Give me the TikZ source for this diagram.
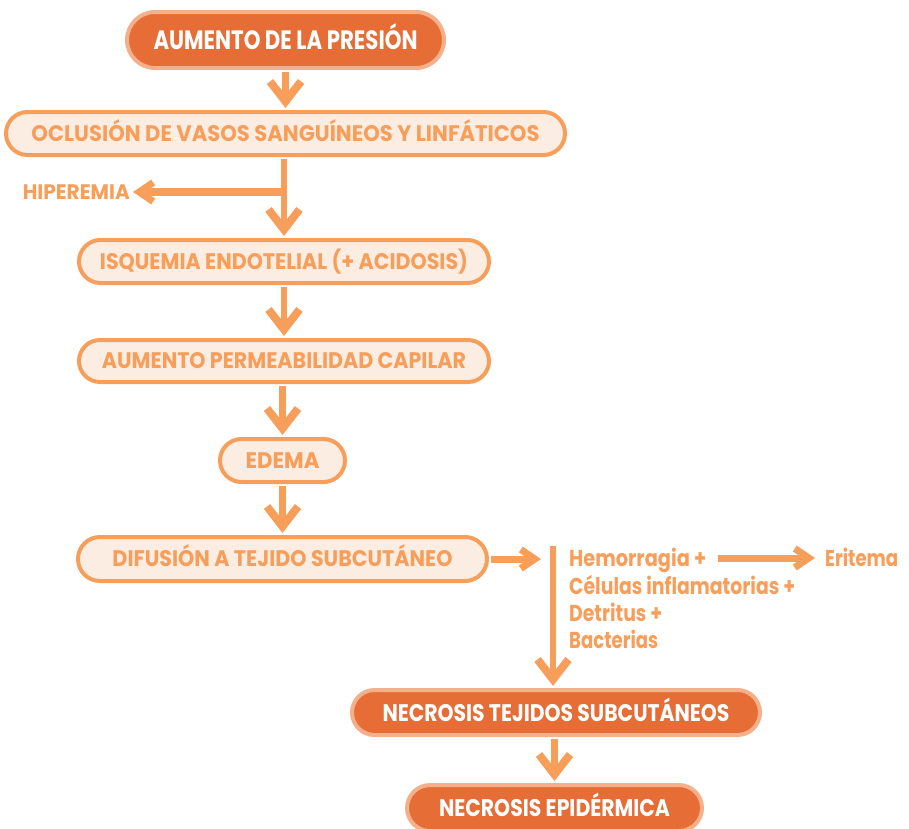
\documentclass[tikz,border=0pt]{standalone}
\usepackage{fontspec}
\setmainfont{Poppins}
\usetikzlibrary{arrows.meta}
\definecolor{darkfill}{HTML}{E66D35}
\definecolor{darkedge}{HTML}{F3B08A}
\definecolor{litefill}{HTML}{FCEDE3}
\definecolor{org}{HTML}{F79E5A}
\newcommand{\fitw}[3]{\resizebox{#1}{\height}{\fontsize{#2}{#2}\selectfont\bfseries #3}}
\tikzset{
  darkbox/.style={draw=darkedge, fill=darkfill, line width=4pt, text=white, inner sep=0pt, text depth=0pt},
  litebox/.style={draw=org, fill=litefill, line width=4pt, text=org, inner sep=0pt, text depth=0pt},
  lbl/.style={text=org, inner sep=2pt},
  arrv/.style={draw=org, line width=6.5pt, shorten <=2pt, shorten >=2pt,
     -{Straight Barb[length=20pt,width=31pt,line width=8pt,sharp]}},
  arrh/.style={draw=org, line width=7pt, shorten <=2pt, shorten >=2pt,
     -{Straight Barb[length=14pt,width=19pt,line width=7pt,sharp]}}
}
\begin{document}
\begin{tikzpicture}[x=1pt,y=-1pt]
\useasboundingbox (0,0) rectangle (909,828);
\clip (0,0) rectangle (909,828);
% boxes
\node[darkbox, minimum width=317pt, minimum height=56pt, rounded corners=28pt, text height=18.5pt] (b1) at (285.5,40) {\fitw{264pt}{26.5pt}{AUMENTO DE LA PRESIÓN}};
\node[litebox, minimum width=559pt, minimum height=43pt, rounded corners=21.5pt, text height=15.5pt] (b2) at (285.5,133.5) {\fitw{508pt}{22.5pt}{OCLUSIÓN DE VASOS SANGUÍNEOS Y LINFÁTICOS}};
\node[litebox, minimum width=410pt, minimum height=43pt, rounded corners=21.5pt, text height=15.5pt] (b3) at (284,261.5) {\fitw{368pt}{22.5pt}{ISQUEMIA ENDOTELIAL (+ ACIDOSIS)}};
\node[litebox, minimum width=410pt, minimum height=42pt, rounded corners=21pt, text height=15.5pt] (b4) at (284,361) {\fitw{364pt}{22.5pt}{AUMENTO PERMEABILIDAD CAPILAR}};
\node[litebox, minimum width=125pt, minimum height=43pt, rounded corners=21.5pt, text height=15.5pt] (b5) at (282.5,460.5) {\fitw{74pt}{22.5pt}{EDEMA}};
\node[litebox, minimum width=409pt, minimum height=44pt, rounded corners=22pt, text height=15.5pt] (b6) at (282.5,559) {\fitw{340pt}{22.5pt}{DIFUSIÓN A TEJIDO SUBCUTÁNEO}};
\node[darkbox, minimum width=408pt, minimum height=45pt, rounded corners=22.5pt, text height=17pt] (b7) at (556,712.5) {\fitw{347pt}{24pt}{NECROSIS TEJIDOS SUBCUTÁNEOS}};
\node[darkbox, minimum width=295pt, minimum height=46pt, rounded corners=23pt, text height=17pt] (b8) at (554.5,808) {\fitw{231pt}{24pt}{NECROSIS EPIDÉRMICA}};
% labels
\node[lbl, anchor=base east] (hip) at (132,199) {\fitw{107pt}{21pt}{HIPEREMIA}};
\node[lbl, anchor=base west, inner sep=0pt] (l1) at (569,566) {\fitw{137pt}{23pt}{Hemorragia +}};
\node[lbl, anchor=base west, inner sep=0pt] (l2) at (569,594) {\fitw{226pt}{23pt}{Células inflamatorias +}};
\node[lbl, anchor=base west, inner sep=0pt] (l3) at (569,621) {\fitw{93pt}{23pt}{Detritus +}};
\node[lbl, anchor=base west, inner sep=0pt] (l4) at (569,648) {\fitw{89pt}{23pt}{Bacterias}};
\node[lbl, anchor=base west, inner sep=0pt] (eri) at (825,566) {\fitw{73pt}{23pt}{Eritema}};
% connectors
\coordinate (hj) at (287,192);
\coordinate (de) at (543,559);
\coordinate (bt) at (553,546);
\coordinate (es) at (718,558);
\coordinate (ee) at (817,558);
\draw[arrv] (b1) -- (b2);
\draw[arrv] (b2.south -| b3) -- (b3.north);
\draw[arrh, line width=7.5pt, shorten <=0pt, shorten >=1pt] (hj) -- (hj -| hip.east);
\draw[arrv] (b3) -- (b4);
\draw[arrv] (b4.south -| b5) -- (b5.north);
\draw[arrv] (b5) -- (b6);
\draw[arrh] (b6.east) -- (de);
\draw[arrv, shorten <=0pt] (bt) -- (bt |- b7.north);
\draw[arrh, shorten <=0pt] (es) -- (ee);
\draw[arrv] (b7.south -| b8) -- (b8.north);
\end{tikzpicture}
\end{document}
